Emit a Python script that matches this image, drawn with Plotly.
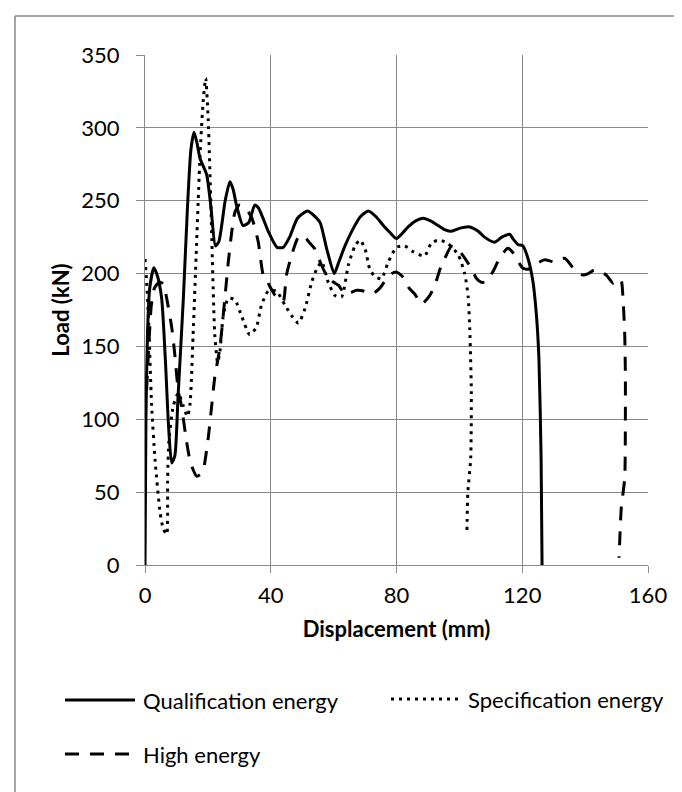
import plotly.graph_objects as go

# ---------------- data ----------------
qual_x = [0, 0.3, 0.8, 1.5, 2.8, 4.0, 5.3, 6.5, 7.5, 8.5, 9.5, 10.5, 12.2, 13.5, 14.6, 15.6,
          16.5, 17.5, 19.6, 21.0, 22.4, 23.5, 25.5, 27.0, 28.0, 29.1, 31.2, 33.0, 34.9, 36.1,
          39.2, 42.0, 44.0, 46.0, 48.5, 51.7, 53.7, 55.7, 57.8, 60.2, 61.5, 63.6, 66.0, 68.5,
          71.0, 73.5, 75.8, 78.0, 80.0, 82.0, 83.7, 86.0, 88.5, 91.0, 93.2, 95.5, 97.5, 100.0,
          103.3, 106.0, 108.0, 111.2, 113.5, 116.0, 117.0, 118.6, 120.2, 121.8, 123.4, 124.5,
          125.3, 126.0, 126.3]
qual_y = [0, 100, 160, 190, 204, 198, 183, 140, 95, 70, 75, 115, 183, 245, 285, 297,
          290, 279, 268, 245, 219, 222, 250, 263, 258, 247, 233, 235, 247, 245,
          229, 218, 218, 225, 238, 243, 240, 235, 217, 200, 207, 219, 230, 239,
          243, 239, 233, 228, 224, 228, 232, 236, 238, 236, 233, 230, 229, 231,
          232, 229, 225, 221.5, 225, 227, 224, 220, 219, 210.5, 194.5, 171.6,
          142, 73, 0]

spec_x = [0, 0.5, 1.1, 2.1, 3.2, 4.8, 5.8, 6.9, 7.2, 7.6, 9.0, 10.6, 12.2, 13.5, 14.3, 15.3,
          16.4, 17.5, 18.5, 19.3, 20.1, 21.0, 22.2, 23.1, 23.8, 24.9, 26.5, 28.6, 30.7, 33.3,
          35.4, 37.0, 39.2, 41.8, 44.6, 46.7, 48.8, 50.9, 53.0, 54.6, 56.2, 58.3, 60.4, 62.5,
          64.7, 66.8, 68.4, 70.0, 71.5, 73.1, 75.2, 77.4, 80.0, 82.6, 85.3, 88.9, 91.1, 93.5,
          96.4, 99.6, 101.7, 102.8, 103.3, 103.8, 103.6, 102.7, 102.4]
spec_y = [210, 195, 170, 110, 72, 36, 25, 21, 60, 85, 109, 118, 109, 102, 110, 158,
          220, 281, 318, 334, 306, 244, 158, 139, 146, 171, 183, 182, 171, 158,
          163, 178, 188, 188, 178, 171, 166, 176, 194, 203, 208, 194, 185, 184,
          206, 219, 223, 217, 203, 198, 196.5, 208, 218, 219, 215, 212, 221, 223,
          220.6, 213, 200, 184, 162, 119, 73, 50, 23]

high_x = [0.5, 1.2, 2.0, 3.0, 4.5, 5.8, 6.9, 8.5, 9.5, 10.6, 11.6, 13.2, 14.5, 16.4, 17.5,
          18.5, 20.1, 21.2, 22.2, 23.8, 25.4, 26.5, 27.5, 28.6, 30.0, 32.0, 34.0, 36.0, 37.6,
          39.0, 41.4, 43.0, 44.0, 45.0, 46.7, 48.8, 50.5, 52.0, 54.0, 55.7, 57.2, 58.8, 60.0,
          61.5, 63.6, 65.5, 67.3, 69.5, 71.5, 73.0, 74.7, 76.8, 78.5, 80.0, 82.6, 84.0, 85.8,
          88.0, 90.6, 92.2, 94.0, 95.3, 97.4, 99.5, 100.6, 102.5, 103.8, 105.4, 107.0, 108.5,
          110.7, 112.8, 115.4, 116.8, 118.1, 120.2, 122.0, 124.0, 127.0, 130.3, 133.5, 136.7,
          139.3, 141.0, 143.0, 146.7, 148.9, 150.5, 151.5, 152.0, 152.6, 152.8, 152.8, 152.6,
          151.5, 150.8]
high_y = [120, 150, 178, 190, 194, 193, 183, 163, 144, 119, 109, 85, 70, 61, 62,
          65, 87, 109, 129, 149, 183, 208, 227, 242, 247, 245, 238, 222, 199,
          194, 185, 182, 181, 199, 213, 225, 226, 222, 217, 208, 201, 196.5, 194,
          192, 186, 187, 188.5, 188, 186, 187, 190, 196.5, 200, 201, 196.5, 190, 186,
          179, 185, 192, 204, 210, 218.5, 217, 214, 208, 203.6, 196.8, 194, 194.5,
          201.4, 210.5, 217.4, 215, 210.5, 203.6, 203, 206, 209.4, 208, 210.5, 202.5,
          199, 200, 202.5, 199, 193.4, 196.5, 195, 185, 158, 130, 100, 60,
          39, 5]

series_names = ["Qualification energy", "Specification energy", "High energy"]
x_ticks = [0, 40, 80, 120, 160]
y_ticks = [0, 50, 100, 150, 200, 250, 300, 350]

# ---------------- styling ----------------
W, H = 682, 792
ML, MR, MT, MB = 137, 42, 47, 235
FONT = "Lato"
FS = 22
GRID = "#898989"
DOT = "3px,5px"
DASH = "14px,11px"

fig = go.Figure()
fig.add_trace(go.Scatter(x=qual_x, y=qual_y, mode="lines", name=series_names[0],
                         line=dict(color="black", width=3, shape="spline", smoothing=0.6),
                         showlegend=False))
fig.add_trace(go.Scatter(x=spec_x, y=spec_y, mode="lines", name=series_names[1],
                         line=dict(color="black", width=3, dash=DOT, shape="spline", smoothing=0.6),
                         showlegend=False))
fig.add_trace(go.Scatter(x=high_x, y=high_y, mode="lines", name=series_names[2],
                         line=dict(color="black", width=3, dash=DASH, shape="spline", smoothing=0.6),
                         showlegend=False))

pw = W - ML - MR
ph = H - MT - MB


def px(xp):
    return (xp - ML) / pw


def py(yp):
    return (H - MB - yp) / ph


shapes = []
annotations = []
# outer chart border (left and top visible in reference)
shapes.append(dict(type="line", xref="paper", yref="paper", x0=px(7), x1=px(7), y0=py(8), y1=py(800),
                   line=dict(color=GRID, width=1.5)))
shapes.append(dict(type="line", xref="paper", yref="paper", x0=px(7), x1=px(690), y0=py(8), y1=py(8),
                   line=dict(color=GRID, width=1.5)))

# custom legend
legend_items = [
    (series_names[0], "solid", 57, 127, 133, 692),
    (series_names[1], DOT, 383, 450, 458, 691),
    (series_names[2], DASH, 57, 127, 133, 746),
]
for name, dash, x0, x1, xt, yy in legend_items:
    shapes.append(dict(type="line", xref="paper", yref="paper", x0=px(x0), x1=px(x1), y0=py(yy), y1=py(yy),
                       line=dict(color="black", width=3, dash=dash)))
    annotations.append(dict(text=name, xref="paper", yref="paper", x=px(xt), y=py(yy),
                            xanchor="left", yanchor="middle", showarrow=False,
                            font=dict(family=FONT, size=FS, color="black")))

fig.update_layout(
    width=W, height=H,
    margin=dict(l=ML, r=MR, t=MT, b=MB, autoexpand=False),
    paper_bgcolor="white", plot_bgcolor="white",
    font=dict(family=FONT, size=FS, color="black"),
    shapes=shapes, annotations=annotations,
    showlegend=False,
)
fig.update_xaxes(range=[0, 160], tickvals=x_ticks, ticks="outside", ticklen=7, tickcolor=GRID,
                 showgrid=True, gridcolor=GRID, gridwidth=1, showline=True, linecolor=GRID, linewidth=1,
                 zeroline=False, ticklabelstandoff=4,
                 title=dict(text="<b>Displacement (mm)</b>", standoff=14,
                            font=dict(family=FONT, size=FS, color="black")),
                 automargin=False)
fig.update_yaxes(range=[0, 350], tickvals=y_ticks, ticks="outside", ticklen=8, tickcolor=GRID,
                 showgrid=True, gridcolor=GRID, gridwidth=1, showline=True, linecolor=GRID, linewidth=1,
                 zeroline=False, ticklabelstandoff=12,
                 title=dict(text="<b>Load (kN)</b>", standoff=5,
                            font=dict(family=FONT, size=FS, color="black")),
                 automargin=False)

fig.write_html("out.html")
